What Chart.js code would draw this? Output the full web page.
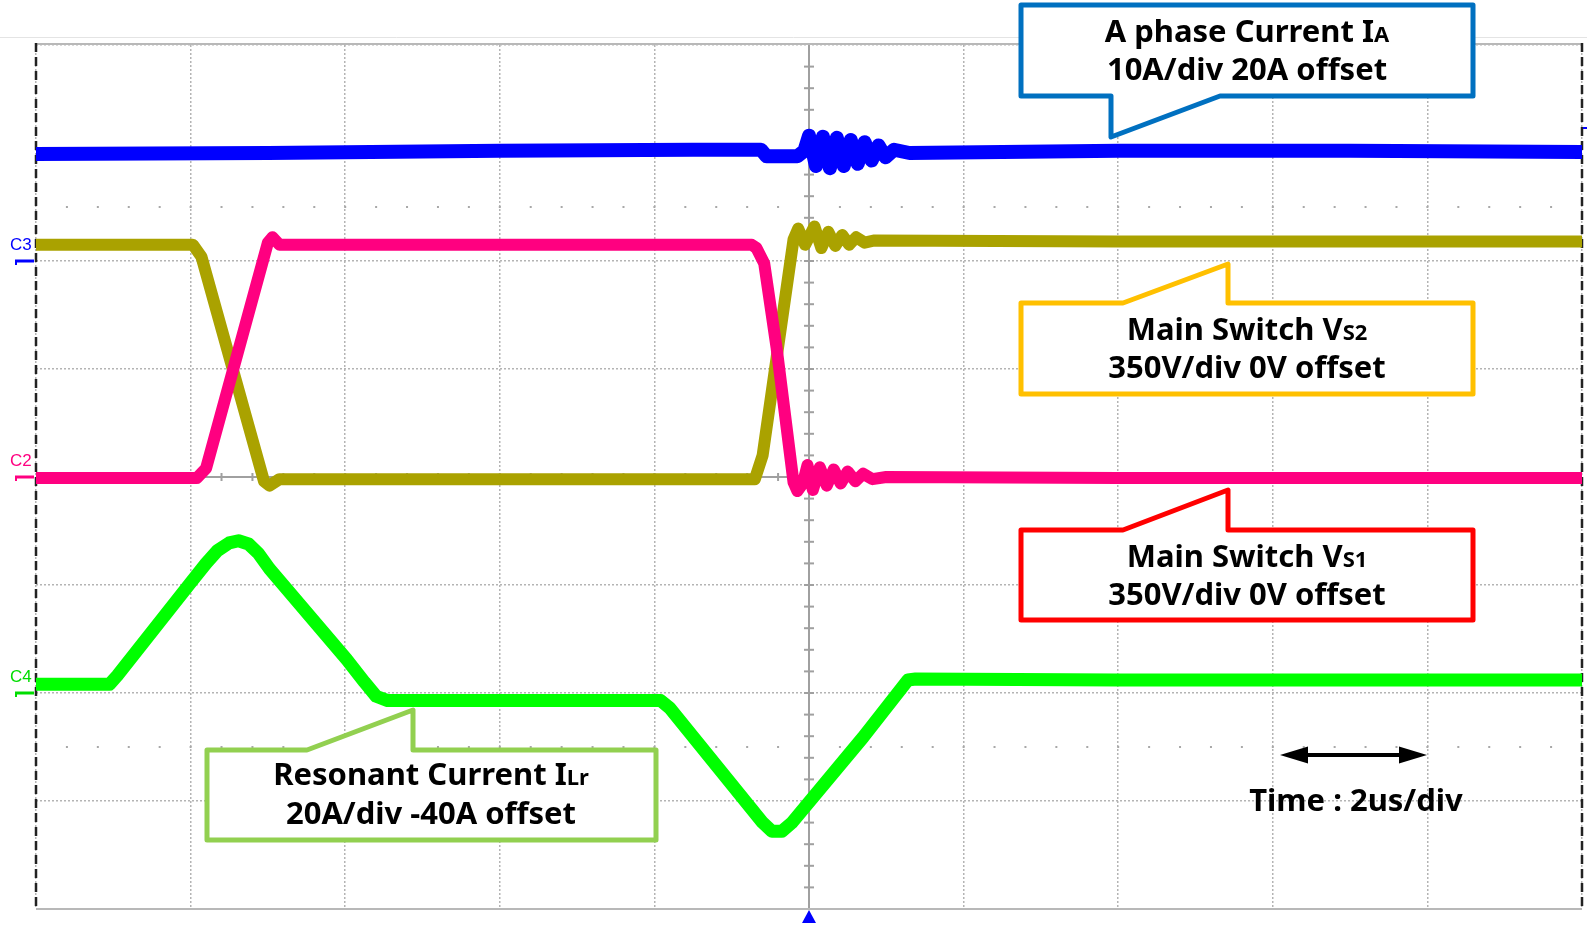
<!DOCTYPE html>
<html>
<head>
<meta charset="utf-8">
<script src="https://cdn.jsdelivr.net/npm/chart.js@4.4.1/dist/chart.umd.min.js"></script>
<style>
  html, body { margin: 0; padding: 0; background: #fff; }
  canvas { display: block; }
</style>
</head>
<body>
<canvas id="scope" width="1587" height="925"></canvas>
<script>
// time axis in us (2us/div, trigger at 0), vertical axis in divisions (0 = bottom, 8 = top)
const timeMin = -10, timeMax = 10, timeStep = 2;
const divMin = 0, divMax = 8;

// A phase current IA (blue)
const blueT = [-10, -7, -4, -1.5, -0.62, -0.55, -0.15, -0.06, 0.0, 0.09, 0.18, 0.27, 0.36, 0.45, 0.54, 0.63, 0.72, 0.81, 0.9, 0.99, 1.1, 1.3, 4, 7, 10];
const blueV = [6.99, 7.0, 7.02, 7.03, 7.03, 6.97, 6.97, 7.02, 7.16, 6.88, 7.15, 6.86, 7.14, 6.88, 7.12, 6.9, 7.1, 6.93, 7.07, 6.96, 7.03, 7.0, 7.02, 7.02, 7.01];

// main switch Vs1 (pink)
const pinkT = [-10, -7.92, -7.8, -7.0, -6.94, -6.85, -3, -0.74, -0.68, -0.58, -0.42, -0.2, -0.15, -0.08, -0.02, 0.05, 0.14, 0.23, 0.32, 0.41, 0.5, 0.6, 0.7, 0.82, 1.0, 4, 10];
const pinkV = [3.99, 3.99, 4.08, 6.17, 6.22, 6.15, 6.15, 6.15, 6.12, 5.98, 5.2, 3.95, 3.87, 3.94, 4.11, 3.88, 4.09, 3.92, 4.07, 3.94, 4.05, 3.96, 4.03, 3.98, 4.0, 3.99, 3.99];

// main switch Vs2 (olive)
const oliveT = [-10, -7.97, -7.86, -7.05, -6.98, -6.85, -3, -0.70, -0.60, -0.20, -0.14, -0.05, 0.07, 0.16, 0.25, 0.34, 0.43, 0.52, 0.61, 0.72, 0.85, 4, 10];
const oliveV = [6.15, 6.15, 6.04, 3.96, 3.92, 3.98, 3.98, 3.98, 4.2, 6.2, 6.3, 6.15, 6.32, 6.12, 6.27, 6.14, 6.24, 6.15, 6.22, 6.17, 6.19, 6.18, 6.18];

// resonant current ILr (green)
const greenT = [-10, -9.05, -8.95, -8.0, -7.8, -7.65, -7.5, -7.38, -7.25, -7.12, -6.98, -5.98, -5.75, -5.6, -5.45, -3, -1.92, -1.8, -0.6, -0.48, -0.35, -0.22, 0.7, 1.28, 1.38, 4, 10];
const greenV = [2.08, 2.08, 2.16, 3.02, 3.2, 3.32, 3.39, 3.41, 3.38, 3.29, 3.15, 2.31, 2.1, 1.97, 1.93, 1.93, 1.93, 1.86, 0.8, 0.72, 0.72, 0.8, 1.59, 2.12, 2.13, 2.12, 2.12];

// channel ground markers on the left edge
const channelNames = ["C3", "C2", "C4"];
const channelLevels = [6, 4, 2];
const channelColors = ["#0000ff", "#ff0080", "#00dd00"];

// callout texts: [text, small?]
const textIA = [[["A phase Current I", 0], ["A", 1]], [["10A/div 20A offset", 0]]];
const textVs2 = [[["Main Switch V", 0], ["S2", 1]], [["350V/div 0V offset", 0]]];
const textVs1 = [[["Main Switch V", 0], ["S1", 1]], [["350V/div 0V offset", 0]]];
const textILr = [[["Resonant Current I", 0], ["Lr", 1]], [["20A/div -40A offset", 0]]];
const timeText = "Time : 2us/div";

const FONT = '"Noto Sans", "Open Sans", sans-serif';

function pts(ts, vs) {
    return ts.map((t, i) => ({ x: t, y: vs[i] }));
}

function line(ctx, x1, y1, x2, y2) {
    ctx.beginPath();
    ctx.moveTo(x1, y1);
    ctx.lineTo(x2, y2);
    ctx.stroke();
}

function drawRuns(ctx, runs, cx, base) {
    let w = 0;
    runs.forEach(r => {
        ctx.font = `bold ${r[1] ? 22 : 31}px ${FONT}`;
        w += ctx.measureText(r[0]).width;
    });
    let x = cx - w / 2;
    ctx.textAlign = "left";
    ctx.textBaseline = "alphabetic";
    ctx.fillStyle = "#000";
    runs.forEach(r => {
        ctx.font = `bold ${r[1] ? 22 : 31}px ${FONT}`;
        ctx.fillText(r[0], x, base);
        x += ctx.measureText(r[0]).width;
    });
}

// box outlines with their pointer, in page pixels
const callouts = [
    { color: "#0070c0", lines: textIA, cx: 1247, base: [42, 80],
      path: [[1021, 5], [1473, 5], [1473, 96], [1220, 96], [1111, 137], [1111, 96], [1021, 96]] },
    { color: "#ffc000", lines: textVs2, cx: 1247, base: [340, 378],
      path: [[1021, 303], [1123, 303], [1228, 264], [1228, 303], [1473, 303], [1473, 394], [1021, 394]] },
    { color: "#ff0000", lines: textVs1, cx: 1247, base: [567, 605],
      path: [[1021, 530], [1123, 530], [1228, 490], [1228, 530], [1473, 530], [1473, 620], [1021, 620]] },
    { color: "#92d050", lines: textILr, cx: 431, base: [785, 824],
      path: [[207, 750], [307, 750], [413, 710], [413, 750], [656, 750], [656, 840], [207, 840]] }
];

const scopeDecor = {
    id: "scopeDecor",
    beforeDatasetsDraw(chart) {
        const { ctx, chartArea: a, scales: { x, y } } = chart;
        ctx.save();
        // thin line at the top of the screenshot
        ctx.strokeStyle = "#e4e4e4";
        ctx.lineWidth = 1;
        line(ctx, 0, 37.5, chart.width, 37.5);

        // rows of small dots
        ctx.fillStyle = "#a8a8a8";
        [6.5, 1.5].forEach(d => {
            const py = y.getPixelForValue(d);
            for (let k = 1; k < 50; k++) {
                const px = x.getPixelForValue(timeMin + k * 0.4);
                ctx.fillRect(px - 1, py - 1, 2, 2);
            }
        });

        // centre axes with minor ticks
        const cx = x.getPixelForValue(0), cy = y.getPixelForValue(4);
        ctx.strokeStyle = "#a0a0a0";
        ctx.lineWidth = 2;
        line(ctx, cx, a.top, cx, a.bottom);
        line(ctx, a.left, cy, a.right, cy);
        for (let k = 1; k < 40; k++) {
            const py = y.getPixelForValue(divMin + k * 0.2);
            line(ctx, cx - 5, py, cx + 5, py);
        }
        for (let k = 1; k < 50; k++) {
            const px = x.getPixelForValue(timeMin + k * 0.4);
            line(ctx, px, cy - 4, px, cy + 4);
        }

        // frame
        ctx.strokeStyle = "#b8b8b8";
        line(ctx, a.left, a.top - 1, a.right, a.top - 1);
        line(ctx, a.left, a.bottom, a.right, a.bottom);
        ctx.strokeStyle = "#222";
        ctx.lineWidth = 2.5;
        ctx.setLineDash([9, 5]);
        line(ctx, a.left, a.top - 2, a.left, a.bottom);
        line(ctx, a.right, a.top - 2, a.right, a.bottom);
        ctx.restore();
    },
    afterDraw(chart) {
        const { ctx, chartArea: a, scales: { x, y } } = chart;
        ctx.save();

        // channel ground markers
        channelNames.forEach((n, i) => {
            const py = y.getPixelForValue(channelLevels[i]);
            ctx.fillStyle = channelColors[i];
            ctx.strokeStyle = channelColors[i];
            ctx.font = `17px "Liberation Sans", Arial, sans-serif`;
            ctx.textAlign = "left";
            ctx.textBaseline = "alphabetic";
            ctx.fillText(n, 10, py - 11);
            ctx.lineWidth = 3;
            line(ctx, 15, py, 34, py);
            ctx.lineWidth = 2;
            line(ctx, 16, py, 16, py + 4);
        });

        // trigger markers
        const tx = x.getPixelForValue(0);
        ctx.fillStyle = "#0000ff";
        ctx.beginPath();
        ctx.moveTo(tx, a.bottom + 1);
        ctx.lineTo(tx + 7, a.bottom + 14);
        ctx.lineTo(tx - 7, a.bottom + 14);
        ctx.closePath();
        ctx.fill();
        ctx.strokeStyle = "#0000ff";
        ctx.lineWidth = 2;
        line(ctx, a.right + 1, 128, chart.width, 128);

        // callouts
        callouts.forEach(c => {
            ctx.beginPath();
            c.path.forEach((p, i) => i ? ctx.lineTo(p[0], p[1]) : ctx.moveTo(p[0], p[1]));
            ctx.closePath();
            ctx.fillStyle = "#fff";
            ctx.fill();
            ctx.lineWidth = 5;
            ctx.lineJoin = "round";
            ctx.strokeStyle = c.color;
            ctx.stroke();
            c.lines.forEach((runs, i) => drawRuns(ctx, runs, c.cx, c.base[i]));
        });

        // time scale arrow
        const ay = 755, ax1 = 1280, ax2 = 1427;
        ctx.strokeStyle = "#000";
        ctx.fillStyle = "#000";
        ctx.lineWidth = 4;
        line(ctx, ax1 + 20, ay, ax2 - 20, ay);
        ctx.beginPath();
        ctx.moveTo(ax2, ay); ctx.lineTo(ax2 - 28, ay - 8.5); ctx.lineTo(ax2 - 28, ay + 8.5); ctx.closePath();
        ctx.fill();
        ctx.beginPath();
        ctx.moveTo(ax1, ay); ctx.lineTo(ax1 + 28, ay - 8.5); ctx.lineTo(ax1 + 28, ay + 8.5); ctx.closePath();
        ctx.fill();
        drawRuns(ctx, [[timeText, 0]], 1356, 811);

        ctx.restore();
    }
};

const traceStyle = (color, width) => ({
    borderColor: color,
    backgroundColor: color,
    borderWidth: width,
    pointRadius: 0,
    tension: 0,
    fill: false,
    borderJoinStyle: "round"
});

new Chart(document.getElementById("scope"), {
    type: "line",
    data: {
        datasets: [
            { label: "IA", data: pts(blueT, blueV), ...traceStyle("#0000ff", 14) },
            { label: "Vs1", data: pts(pinkT, pinkV), ...traceStyle("#ff0080", 12) },
            { label: "Vs2", data: pts(oliveT, oliveV), ...traceStyle("#aaa200", 12) },
            { label: "ILr", data: pts(greenT, greenV), ...traceStyle("#00ff00", 13) }
        ]
    },
    options: {
        responsive: false,
        animation: false,
        layout: { padding: { left: 36, right: 5, top: 45, bottom: 16 } },
        plugins: { legend: { display: false }, tooltip: { enabled: false } },
        scales: {
            x: {
                type: "linear", min: timeMin, max: timeMax,
                ticks: { display: false, stepSize: timeStep },
                grid: { color: "#b4b4b4", lineWidth: 1.5, drawTicks: false },
                border: { display: false, dash: [2, 2] }
            },
            y: {
                type: "linear", min: divMin, max: divMax,
                ticks: { display: false, stepSize: 1 },
                grid: { color: "#b4b4b4", lineWidth: 1.5, drawTicks: false },
                border: { display: false, dash: [2, 2] }
            }
        }
    },
    plugins: [scopeDecor]
});
</script>
</body>
</html>
